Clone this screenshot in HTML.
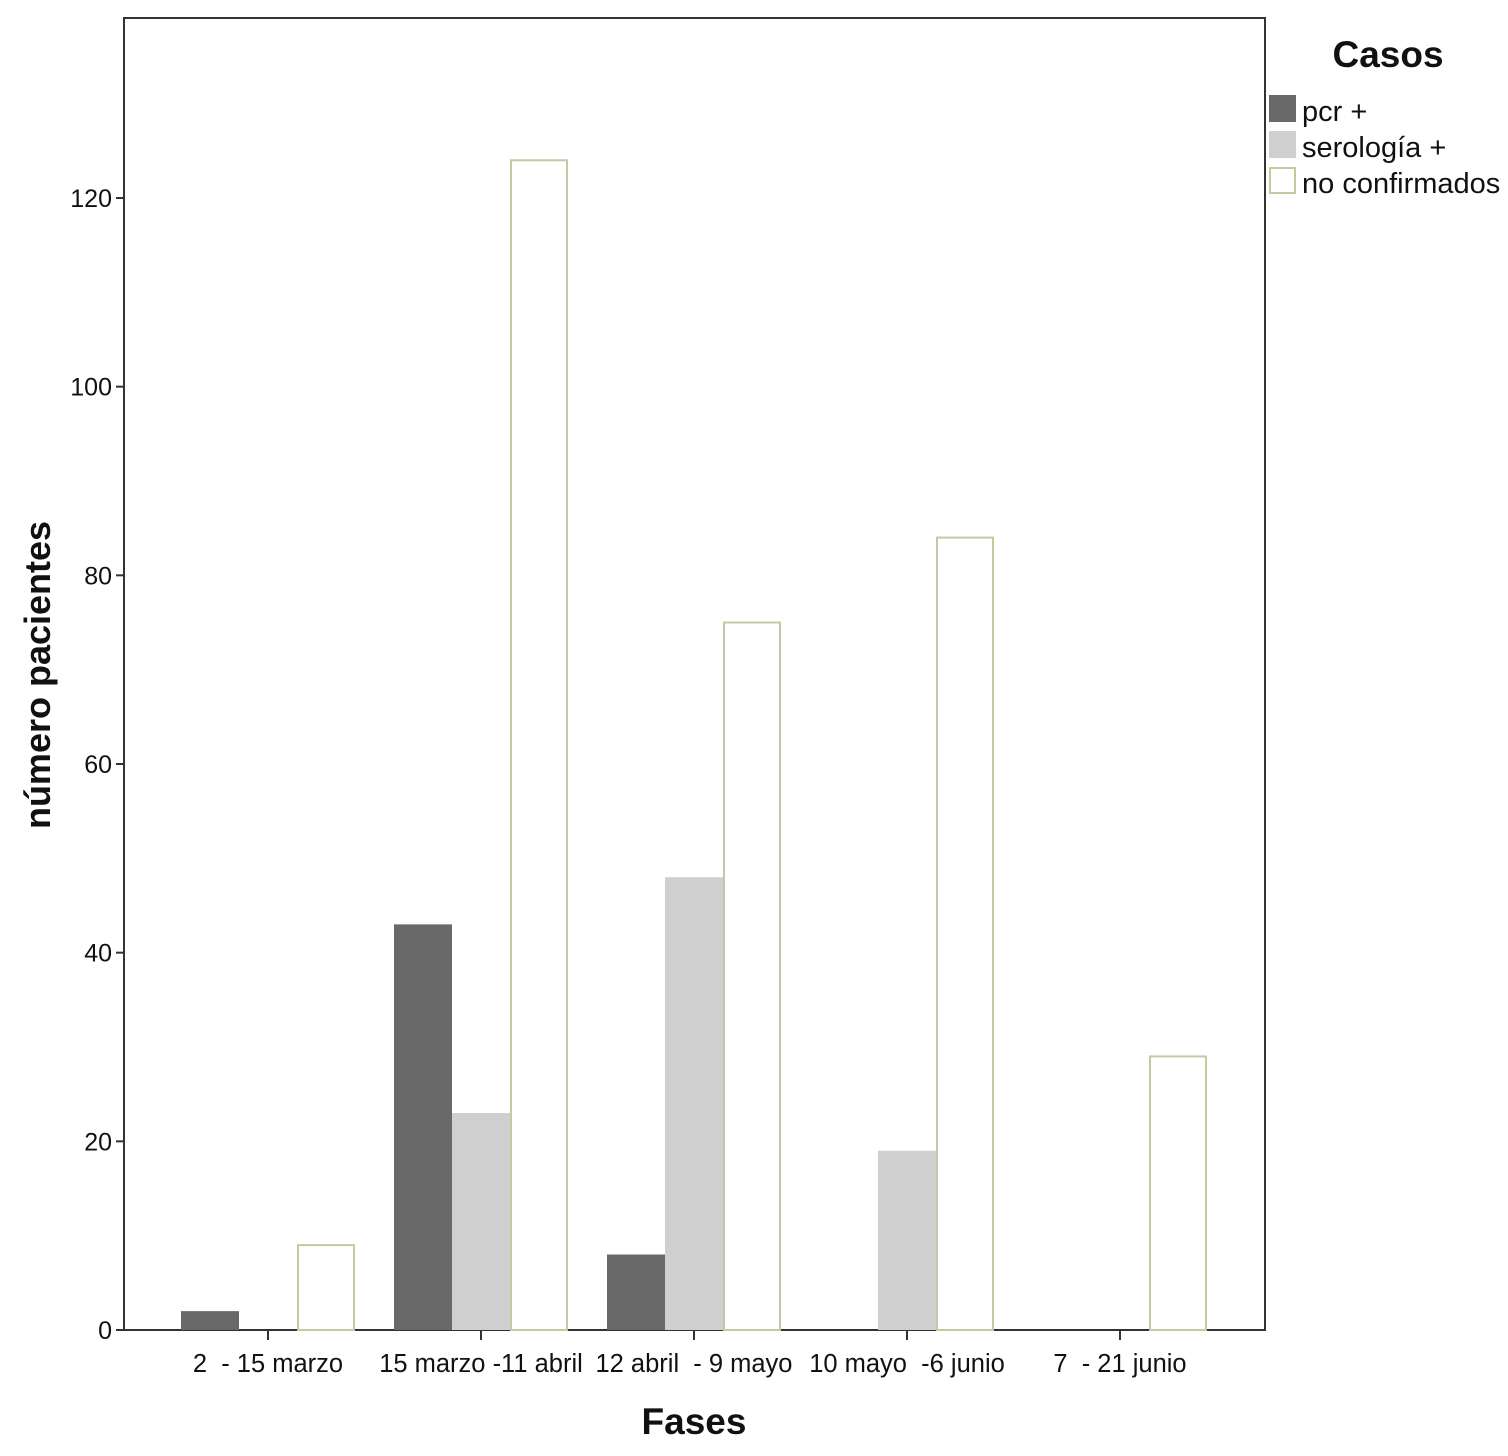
<!DOCTYPE html>
<html><head><meta charset="utf-8"><style>
body{margin:0;background:#fff;}
svg text{font-family:"Liberation Sans",Arial,sans-serif;}
</style></head><body>
<svg id="chart" width="1508" height="1451" xmlns="http://www.w3.org/2000/svg">
<rect x="124" y="18" width="1141" height="1312" fill="#fff" stroke="#333" stroke-width="2"/>
<g id="bars"></g>
<g id="yaxis"></g>
<g id="xaxis"></g>
<text x="0" y="0" transform="translate(50,675) rotate(-90)" text-anchor="middle" font-size="36" font-weight="bold" fill="#111">número pacientes</text>
<text x="694" y="1434" text-anchor="middle" font-size="37" font-weight="bold" fill="#111">Fases</text>
<text x="1388" y="67" text-anchor="middle" font-size="37" font-weight="bold" fill="#111">Casos</text>
<g><rect x="1269" y="95" width="27" height="27" fill="#696969"/><text x="1302" y="121" font-size="29" fill="#111">pcr +</text></g>
<g><rect x="1269" y="131" width="27" height="27" fill="#cfcfcf"/><text x="1302" y="157" font-size="29" fill="#111">serología +</text></g>
<g><rect x="1270" y="168" width="25" height="25" fill="#fff" stroke="#c8c8a0" stroke-width="2"/><text x="1302" y="193" font-size="29" fill="#111">no confirmados</text></g>
</svg>
<script>
const categories=["2  - 15 marzo","15 marzo -11 abril","12 abril  - 9 mayo","10 mayo  -6 junio","7  - 21 junio"];
const pcr=[2,43,8,0,0];
const serologia=[0,23,48,19,0];
const noConfirmados=[9,124,75,84,29];
const yTicks=[0,20,40,60,80,100,120];
const NS="http://www.w3.org/2000/svg";
const y0=1330, yPer=(1330-198)/120;
const yS=v=>y0-v*yPer;
const xC=i=>268+i*213;
const bw=58;
const bars=document.getElementById('bars');
const series=[{d:pcr,f:"#696969",s:"none",n:"pcr"},{d:serologia,f:"#cfcfcf",s:"none",n:"serologia"},{d:noConfirmados,f:"#fff",s:"#c8c8a0",n:"no-confirmados"}];
series.forEach((se,k)=>{se.d.forEach((v,i)=>{
 if(v<=0)return;
 const r=document.createElementNS(NS,'rect');
 const x=xC(i)-87+k*bw;
 r.setAttribute('x',x+(se.s!=="none"?1:0));r.setAttribute('y',yS(v));
 r.setAttribute('width',bw-(se.s!=="none"?2:0));r.setAttribute('height',y0-yS(v));
 r.setAttribute('fill',se.f);
 if(se.s!=="none"){r.setAttribute('stroke',se.s);r.setAttribute('stroke-width','2');}
 
 
 bars.appendChild(r);
});});
const ya=document.getElementById('yaxis');
yTicks.forEach(t=>{
 const l=document.createElementNS(NS,'line');
 l.setAttribute('x1',116);l.setAttribute('x2',124);l.setAttribute('y1',yS(t));l.setAttribute('y2',yS(t));l.setAttribute('stroke','#333');l.setAttribute('stroke-width','2');
 
 
 ya.appendChild(l);
 const tx=document.createElementNS(NS,'text');
 tx.setAttribute('x',112);tx.setAttribute('y',yS(t)+9);tx.setAttribute('text-anchor','end');tx.setAttribute('font-size','25');tx.setAttribute('fill','#111');
 tx.textContent=t;
 
 
 ya.appendChild(tx);
});
const xa=document.getElementById('xaxis');
categories.forEach((c,i)=>{
 const l=document.createElementNS(NS,'line');
 l.setAttribute('x1',xC(i));l.setAttribute('x2',xC(i));l.setAttribute('y1',1330);l.setAttribute('y2',1340);l.setAttribute('stroke','#333');l.setAttribute('stroke-width','2');
 
 
 xa.appendChild(l);
 const tx=document.createElementNS(NS,'text');
 tx.setAttribute('x',xC(i));tx.setAttribute('y',1372);tx.setAttribute('text-anchor','middle');tx.setAttribute('font-size','25.5');tx.setAttribute('fill','#111');
 tx.setAttribute('xml:space','preserve');tx.style.whiteSpace='pre';
 tx.textContent=c;
 
 
 xa.appendChild(tx);
});
</script>
</body></html>
